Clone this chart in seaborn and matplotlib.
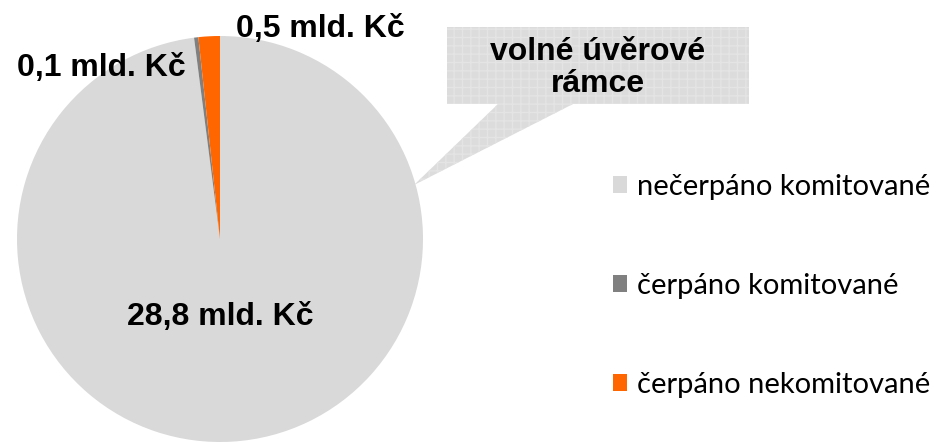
import matplotlib
matplotlib.use('Agg')
import matplotlib.pyplot as plt
from matplotlib.patches import Polygon
import seaborn as sns

# data (mld. Kč)
categories = ["nečerpáno komitované", "čerpáno komitované", "čerpáno nekomitované"]
values = [28.8, 0.1, 0.5]
value_labels = ["28,8 mld. Kč", "0,1 mld. Kč", "0,5 mld. Kč"]
callout_text = "volné úvěrové\nrámce"

sns.set_theme(style="white")
plt.rcParams['font.family'] = ['Liberation Sans', 'DejaVu Sans']
plt.rcParams['text.color'] = 'black'
plt.rcParams['hatch.linewidth'] = 1.0
colors = ["#d9d9d9", "#808080", "#ff6600"]

W, H = 943, 442
fig = plt.figure(figsize=(W / 100, H / 100), dpi=100)
fig.patch.set_facecolor("white")

# pie centre (220, 239) px, radius 203 px
cx, cy, r = 220, 239, 203
ax = fig.add_axes([(cx - r) / W, (H - cy - r) / H, 2 * r / W, 2 * r / H])
wedges, _ = ax.pie(values, colors=colors, startangle=90, counterclock=False,
                   radius=1, wedgeprops={"linewidth": 0})
ax.set_xlim(-1, 1)
ax.set_ylim(-1, 1)
ax.set_aspect("equal")
ax.axis("off")

# label baselines in pie units
label_pos = [(0.0, -0.424), (-0.586, 0.803), (0.493, 0.995)]
for txt, (x, y) in zip(value_labels, label_pos):
    ax.text(x, y, txt, ha="center", va="baseline", fontsize=23, fontweight="bold",
            color="black", clip_on=False)

# callout box with pointer to the big slice
def px(x, y):
    return (x / W, 1 - y / H)

pts = [px(447, 27), px(749, 27), px(749, 104), px(573, 104), px(414, 185),
       px(498, 104), px(447, 104)]
fig.patches.append(Polygon(pts, closed=True, transform=fig.transFigure,
                           facecolor="#dcdcdc", edgecolor="#e4e4e4", hatch="++",
                           linewidth=0, zorder=3))
fig.text(598 / W, 1 - 68 / H, callout_text, ha="center", va="center", color="black",
         fontsize=23, fontweight="bold", linespacing=1.1, zorder=4)

leg = fig.legend(wedges, categories, loc="center left",
                 bbox_to_anchor=(598 / W, 1 - 286 / H), frameon=False,
                 prop={"family": ["Lato", "DejaVu Sans"], "size": 21},
                 labelcolor="black",
                 handlelength=0.5, handleheight=0.5, handletextpad=0.35,
                 labelspacing=2.5, borderpad=0)

fig.savefig("out.png", dpi=100)
